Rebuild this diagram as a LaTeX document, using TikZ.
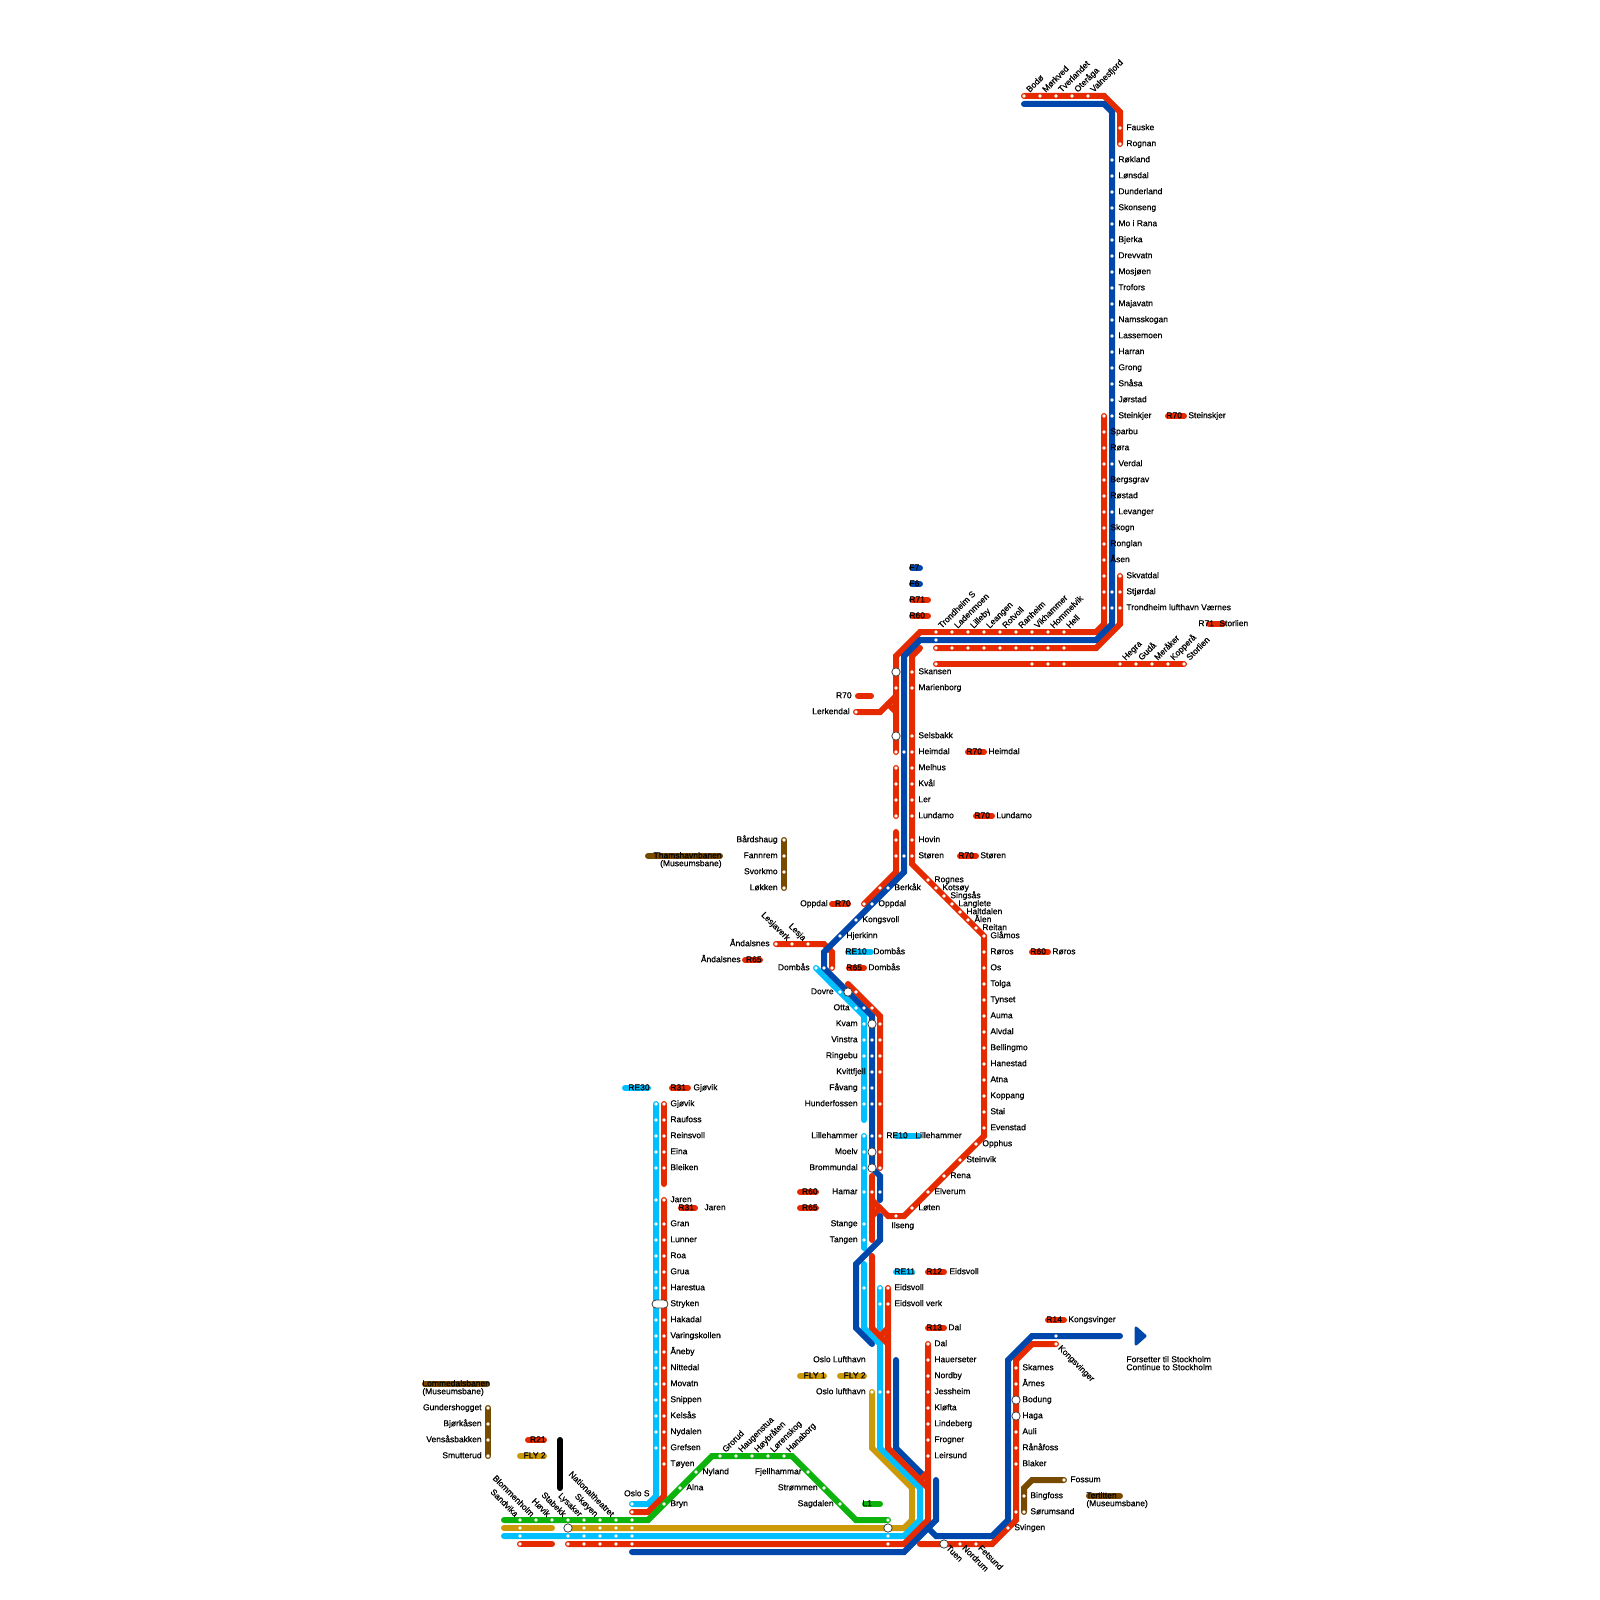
\documentclass[tikz,border=0pt]{standalone}
\usepackage{fontspec}
\setmainfont{Liberation Sans}[FakeBold=0.6]
\definecolor{cr}{HTML}{E52A00}
\definecolor{cb}{HTML}{0047AB}
\definecolor{cc}{HTML}{00BFFF}
\definecolor{cg}{HTML}{0DB30D}
\definecolor{cy}{HTML}{CC9A06}
\definecolor{cn}{HTML}{784A00}
\newcount\nn
\newcommand\tagname{\global\advance\nn by 1 }
\newcommand\tl[3]{\tagname\node[lbl,anchor=base west,name=t\the\nn] at (#1,#2+3.2) {#3};}
\newcommand\tr[3]{\tagname\node[lbl,anchor=base east,name=t\the\nn] at (#1,#2+3.2) {#3};}
\newcommand\rup[3]{\tagname\node[lbl,rotate=45,anchor=base west,name=t\the\nn] at (#1+5.5,#2-3) {#3};}
\newcommand\rdl[3]{\tagname\node[lbl,rotate=-45,anchor=base east,name=t\the\nn] at (#1-5,#2-2.5) {#3};}
\newcommand\rdr[3]{\tagname\node[lbl,rotate=-45,anchor=base west,name=t\the\nn] at (#1+1.5,#2+4.4) {#3};}
\newcommand\pill[4]{\draw[ln,#1] (#2+3,#4) -- (#3-3,#4);}
\newcommand\stns[1]{\foreach \x/\y in {#1} {\node[stn,name=s\x-\y] at (\x,\y) {};}}
\newcommand\hub[2]{\node[hubst,name=h#1-#2] at (#1,#2) {};}
\tikzset{
 ln/.style={line width=3pt,line cap=round,line join=miter},
 stn/.style={circle,fill=white,inner sep=0pt,minimum size=1.85pt},
 hubst/.style={circle,fill=white,draw=black!75,line width=.4pt,inner sep=0pt,minimum size=4.2pt},
 lbl/.style={font=\fontsize{4.25}{5}\selectfont,inner sep=0pt,text=black},
}
\begin{document}
\begin{tikzpicture}[x=.5pt,y=-.5pt]
\useasboundingbox (0,0) rectangle (1600,1600);
\fill[white] (0,0) rectangle (1600,1600);
% brown
\draw[ln,cn] (784,840) -- (784,888);
\draw[ln,cn] (488,1408) -- (488,1456);
\draw[ln,cn] (1024,1512) -- (1024,1488) -- (1032,1480) -- (1064,1480);
% gold
\draw[ln,cy] (504,1528) -- (552,1528);
\draw[ln,cy] (568,1528) -- (904,1528) -- (912,1520) -- (912,1488) -- (872,1448) -- (872,1392);
% black
\draw[ln,black] (560,1440) -- (560,1488);
% cyan
\draw[ln,cc] (816,968) -- (864,1016) -- (864,1120);
\draw[ln,cc] (864,1136) -- (864,1248);
\draw[ln,cc] (864,1264) -- (864,1328) -- (880,1344) -- (880,1448) -- (920,1488) -- (920,1520) -- (904,1536) -- (504,1536);
\draw[ln,cc] (880,1288) -- (880,1328);
\draw[ln,cc] (656,1104) -- (656,1496) -- (648,1504) -- (632,1504);
% blue under red
\draw[ln,cb] (896,1360) -- (896,1448) -- (922,1474);
% red
\draw[ln,cr] (1024,96) -- (1104,96) -- (1120,112) -- (1120,144);
\draw[ln,cr] (1104,416) -- (1104,624) -- (1096,632) -- (920,632) -- (896,656) -- (896,752);
\draw[ln,cr] (1120,576) -- (1120,624) -- (1096,648) -- (936,648);
\draw[ln,cr] (936,664) -- (1184,664);
\draw[ln,cr] (920,648) -- (912,656) -- (912,864) -- (984,936) -- (984,1136) -- (904,1216) -- (888,1216) -- (872,1200);
\draw[ln,cr] (856,712) -- (880,712) -- (896,696);
\draw[ln,cr] (888,704) -- (895,711);
\draw[ln,cr] (896,768) -- (896,816);
\draw[ln,cr] (896,832) -- (896,872) -- (864,904);
\draw[ln,cr] (776,944) -- (824,944) -- (832,952) -- (832,968);
\draw[ln,cr] (848,984) -- (880,1016) -- (880,1168);
\draw[ln,cr] (872,1176) -- (872,1240);
\draw[ln,cr] (880,1208) -- (873,1215);
\draw[ln,cr] (872,1256) -- (872,1328) -- (888,1344);
\draw[ln,cr] (888,1288) -- (888,1448) -- (928,1488);
\draw[ln,cr] (888,1328) -- (880,1336);
\draw[ln,cr] (928,1472) -- (920,1480);
\draw[ln,cr] (928,1344) -- (928,1520) -- (904,1544) -- (568,1544);
\draw[ln,cr] (520,1544) -- (552,1544);
\draw[ln,cr] (664,1104) -- (664,1184);
\draw[ln,cr] (664,1200) -- (664,1496) -- (648,1512) -- (632,1512);
\draw[ln,cr] (920,1544) -- (992,1544) -- (1016,1520) -- (1016,1360) -- (1032,1344) -- (1056,1344);
% blue
\draw[ln,cb] (1024,104) -- (1104,104) -- (1112,112) -- (1112,624) -- (1096,640) -- (920,640) -- (904,656) -- (904,872) -- (824,952) -- (824,968) -- (872,1016) -- (872,1168) -- (880,1176) -- (880,1200);
\draw[ln,cb] (880,1216) -- (880,1240) -- (856,1264) -- (856,1328) -- (872,1344);
\draw[ln,cb] (936,1480) -- (936,1520) -- (904,1552) -- (632,1552);
\draw[ln,cb] (928,1528) -- (936,1536) -- (992,1536) -- (1008,1520) -- (1008,1360) -- (1032,1336) -- (1120,1336);
\draw[cb,fill=cb,line width=1.5pt,line join=round] (1136,1328) -- (1145,1336) -- (1136,1344) -- cycle;
% green
\draw[ln,cg] (504,1520) -- (648,1520) -- (712,1456) -- (792,1456) -- (856,1520) -- (888,1520);
% pills
\pill{cb}{909}{923}{568}
\pill{cb}{909}{923}{584}
\pill{cr}{909}{931}{600}
\pill{cr}{909}{931}{616}
\pill{cr}{1206}{1226}{624}
\pill{cr}{1165}{1187}{416}
\pill{cr}{965}{987}{752}
\pill{cr}{973}{995}{816}
\pill{cr}{957}{979}{856}
\pill{cr}{1029}{1051}{952}
\pill{cr}{855}{874}{696}
\pill{cr}{829}{851}{904}
\pill{cc}{845}{874}{952}
\pill{cr}{846}{867}{968}
\pill{cr}{742}{763}{960}
\pill{cc}{894}{922}{1136}
\pill{cr}{797}{819}{1192}
\pill{cr}{797}{819}{1208}
\pill{cc}{893}{915}{1272}
\pill{cr}{925}{947}{1272}
\pill{cr}{925}{947}{1328}
\pill{cy}{797}{827}{1376}
\pill{cy}{837}{867}{1376}
\pill{cg}{862}{883}{1504}
\pill{cr}{1045}{1067}{1320}
\pill{cn}{1086}{1123}{1496}
\pill{cn}{422}{490}{1384}
\pill{cr}{525}{547}{1440}
\pill{cy}{517}{547}{1456}
\pill{cn}{645}{723}{856}
\pill{cc}{622}{651}{1088}
\pill{cr}{669}{691}{1088}
\pill{cr}{678}{698}{1208}
% stations
\foreach \y in {96} {\foreach \x in {1024,1040,1056,1072,1088} {\node[stn,name=a\x] at (\x,\y) {};}}
\foreach \y in {160,176,...,416,464,512,592,608} {\node[stn,name=b\y] at (1112,\y) {};}
\foreach \y in {416,432,...,608} {\node[stn,name=c\y] at (1104,\y) {};}
\foreach \y in {128,144,576,592,608} {\node[stn,name=d\y] at (1120,\y) {};}
\foreach \x in {936,952,...,1064} {\node[stn,name=e\x] at (\x,632) {}; \node[stn,name=f\x] at (\x,648) {};}
\stns{936/640,936/664,1032/664,1048/664,1064/664,1120/664,1136/664,1152/664,1168/664,1184/664}
\foreach \y in {672,688,736,752,768,784,800,816,840,856} {\node[stn,name=g\y] at (912,\y) {};}
\stns{896/688,896/752,896/768,896/784,896/800,896/816,896/840,896/856,904/752,904/856,856/712,880/888,864/904}
\stns{888/888,872/904,856/920,840/936,776/944,792/944,808/944,816/968,824/968,832/968,840/992,856/992,856/1008,864/1008,872/1008}
\stns{928/880,936/888,944/896,952/904,960/912,968/920,976/928}
\foreach \y in {936,952,...,1128} {\node[stn,name=i\y] at (984,\y) {};}
\stns{976/1144,960/1160,944/1176,928/1192,912/1208,896/1216}
\foreach \y in {1024,1040,1056,1088,1104,1136,1152,1168,1192,1224,1240,1288} {\node[stn,name=j\y] at (864,\y) {};}
\foreach \y in {1040,1056,1072,1088,1104,1136} {\node[stn,name=k\y] at (872,\y) {};}
\stns{872/1192,880/1192}
\foreach \y in {1024,1040,1056,1072,1104,1136,1152,1168} {\node[stn,name=m\y] at (880,\y) {};}
\stns{880/1288,880/1304,888/1288,888/1304,872/1392,880/1392,888/1392}
\foreach \y in {1344,1360,...,1456} {\node[stn,name=n\y] at (928,\y) {};}
\foreach \y in {1368,1384,1432,1448,1464,1512} {\node[stn,name=o\y] at (1016,\y) {};}
\stns{1008/1528,1056/1336,1056/1344,960/1544,976/1544,1024/1496,1024/1512,1064/1480}
\foreach \y in {1104,1120,1136,1152,1168,1200,1224,1240,1256,1272,1288,1320,1336,...,1448} {\node[stn,name=p\y] at (656,\y) {};}
\foreach \y in {1104,1120,1136,1152,1168,1200,1224,1240,1256,1272,1288,1320,1336,...,1464} {\node[stn,name=q\y] at (664,\y) {};}
\stns{632/1504,632/1512,664/1504,680/1488,696/1472,720/1456,736/1456,752/1456,768/1456,784/1456,808/1472,824/1488,840/1504,888/1520}
\foreach \x in {520,536,552,568,584,600,616,632} {\node[stn,name=r\x] at (\x,1520) {};}
\foreach \x in {520,584,600,616,632} {\node[stn,name=u\x] at (\x,1528) {};}
\foreach \x in {520,568,584,600,616,632,888} {\node[stn,name=v\x] at (\x,1536) {}; \node[stn,name=w\x] at (\x,1544) {};}
\foreach \y in {840,856,872,888} {\node[stn,name=x\y] at (784,\y) {};}
\foreach \y in {1408,1424,1440,1456} {\node[stn,name=z\y] at (488,\y) {};}
% hubs
\hub{896}{672}\hub{896}{736}\hub{848}{992}\hub{872}{1024}\hub{872}{1152}\hub{872}{1168}
\hub{1016}{1400}\hub{1016}{1416}\hub{944}{1544}\hub{888}{1528}\hub{568}{1528}
\node[draw=black!75,fill=white,line width=.4pt,rounded corners=2pt,minimum width=8pt,minimum height=4pt,inner sep=0pt,name=hstryken] at (660,1304) {};
% labels north
\rup{1024}{96}{Bodø}\rup{1040}{96}{Mørkved}\rup{1056}{96}{Tverlandet}\rup{1072}{96}{Oteråga}\rup{1088}{96}{Valnesfjord}
\tl{1126}{127}{Fauske}\tl{1126}{143}{Rognan}
\foreach \y/\t in {159/Røkland,175/Lønsdal,191/Dunderland,207/Skonseng,223/Mo i Rana,239/Bjerka,255/Drevvatn,271/Mosjøen,287/Trofors,303/Majavatn,319/Namsskogan,335/Lassemoen,351/Harran,367/Grong,383/Snåsa,399/Jørstad,415/Steinkjer,463/Verdal,511/Levanger} {\tl{1118}{\y}{\t}}
\foreach \y/\t in {431/Sparbu,447/Røra,479/Bergsgrav,495/Røstad,527/Skogn,543/Ronglan,559/Åsen} {\tl{1110}{\y}{\t}}
\tl{1126}{575}{Skvatdal}\tl{1126}{591}{Stjørdal}\tl{1126}{607}{Trondheim lufthavn Værnes}
\tl{1166}{415}{R70}\tl{1188}{415}{Steinskjer}
\tl{909}{567}{F7}\tl{909}{583}{F6}\tl{909}{599}{R71}\tl{909}{615}{R60}
\tl{1198}{623}{R71}\tl{1219}{623}{Storlien}
\foreach \x/\t in {936/Trondheim S,952/Ladenmoen,968/Lilleby,984/Leangen,1000/Rotvoll,1016/Ranheim,1032/Vikhammer,1048/Hommelvik,1064/Hell} {\rup{\x}{632}{\t}}
\foreach \x/\t in {1120/Hegra,1136/Gudå,1152/Meråker,1168/Kopperå,1184/Storlien} {\rup{\x}{664}{\t}}
% labels mid
\foreach \y/\t in {671/Skansen,687/Marienborg,735/Selsbakk,751/Heimdal,767/Melhus,783/Kvål,799/Ler,815/Lundamo,839/Hovin,855/Støren} {\tl{918}{\y}{\t}}
\tr{852}{695}{R70}\tr{850}{711}{Lerkendal}
\tl{966}{751}{R70}\tl{988}{751}{Heimdal}
\tl{974}{815}{R70}\tl{996}{815}{Lundamo}
\tl{958}{855}{R70}\tl{980}{855}{Støren}
\tl{934}{879}{Rognes}\tl{942}{887}{Kotsøy}\tl{950}{895}{Singsås}\tl{958}{903}{Langlete}\tl{966}{911}{Haltdalen}\tl{974}{919}{Ålen}\tl{982}{927}{Reitan}
\foreach \y/\t in {935/Glåmos,951/Røros,967/Os,983/Tolga,999/Tynset,1015/Auma,1031/Alvdal,1047/Bellingmo,1063/Hanestad,1079/Atna,1095/Koppang,1111/Stai,1127/Evenstad} {\tl{990}{\y}{\t}}
\tl{1030}{951}{R60}\tl{1052}{951}{Røros}
\tl{982}{1143}{Opphus}\tl{966}{1159}{Steinvik}\tl{950}{1175}{Rena}\tl{934}{1191}{Elverum}\tl{918}{1207}{Løten}\tl{891}{1225}{Ilseng}
\tl{894}{887}{Berkåk}\tl{878}{903}{Oppdal}\tl{862}{919}{Kongsvoll}\tl{846}{935}{Hjerkinn}
\tr{828}{903}{Oppdal}\tr{851}{903}{R70}
\tl{845}{951}{RE10}\tl{873}{951}{Dombås}\tl{846}{967}{R65}\tl{868}{967}{Dombås}
\tr{770}{943}{Åndalsnes}\tr{741}{959}{Åndalsnes}\tr{762}{959}{R65}
\rdl{792}{944}{Lesjaverk}\rdl{808}{944}{Lesja}
\tr{810}{967}{Dombås}\tr{834}{991}{Dovre}\tr{850}{1007}{Otta}
\foreach \y/\t in {1023/Kvam,1039/Vinstra,1055/Ringebu,1087/Fåvang,1103/Hunderfossen,1135/Lillehammer,1151/Moelv,1167/Brommundal,1191/Hamar,1223/Stange,1239/Tangen} {\tr{858}{\y}{\t}}
\tr{866}{1071}{Kvittfjell}
\tl{886}{1135}{RE10}\tl{915}{1135}{Lillehammer}
\tr{818}{1191}{R60}\tr{818}{1207}{R65}
\tl{894}{1271}{RE11}\tl{926}{1271}{R12}\tl{949}{1271}{Eidsvoll}
\tl{894}{1287}{Eidsvoll}\tl{894}{1303}{Eidsvoll verk}
\tl{926}{1327}{R13}\tl{948}{1327}{Dal}
\foreach \y/\t in {1343/Dal,1359/Hauerseter,1375/Nordby,1391/Jessheim,1407/Kløfta,1423/Lindeberg,1439/Frogner,1455/Leirsund} {\tl{934}{\y}{\t}}
\tr{866}{1359}{Oslo Lufthavn}\tr{826}{1375}{FLY 1}\tr{866}{1375}{FLY 2}\tr{866}{1391}{Oslo lufthavn}
\tl{862}{1503}{L1}
% labels east
\tl{1046}{1319}{R14}\tl{1068}{1319}{Kongsvinger}
\rdr{1056}{1344}{Kongsvinger}
\tl{1126}{1359}{Forsetter til Stockholm}\tl{1126}{1367}{Continue to Stockholm}
\foreach \y/\t in {1367/Skarnes,1383/Årnes,1399/Bodung,1415/Haga,1431/Auli,1447/Rånåfoss,1463/Blaker} {\tl{1022}{\y}{\t}}
\tl{1014}{1527}{Svingen}
\tl{1070}{1479}{Fossum}\tl{1030}{1495}{Bingfoss}\tl{1030}{1511}{Sørumsand}
\tl{1086}{1495}{Tertitten}\tl{1086}{1503}{(Museumsbane)}
\rdr{944}{1544}{Tuen}\rdr{960}{1544}{Nordrum}\rdr{976}{1544}{Fetsund}
% labels west
\tl{422}{1383}{Lommedalsbanen}\tl{422}{1391}{(Museumsbane)}
\foreach \y/\t in {1407/Gundershogget,1423/Bjørkåsen,1439/Vensåsbakken,1455/Smutterud} {\tr{482}{\y}{\t}}
\tr{546}{1439}{R21}\tr{546}{1455}{FLY 2}
\tr{722}{855}{Thamshavnbanen}\tr{722}{863}{(Museumsbane)}
\foreach \y/\t in {839/Bårdshaug,855/Fannrem,871/Svorkmo,887/Løkken} {\tr{778}{\y}{\t}}
\tr{650}{1087}{RE30}\tl{670}{1087}{R31}\tl{693}{1087}{Gjøvik}
\tl{678}{1207}{R31}\tl{704}{1207}{Jaren}
\foreach \y/\t in {1103/Gjøvik,1119/Raufoss,1135/Reinsvoll,1151/Eina,1167/Bleiken,1199/Jaren,1223/Gran,1239/Lunner,1255/Roa,1271/Grua,1287/Harestua,1303/Stryken,1319/Hakadal,1335/Varingskollen,1351/Åneby,1367/Nittedal,1383/Movatn,1399/Snippen,1415/Kelsås,1431/Nydalen,1447/Grefsen,1463/Tøyen} {\tl{670}{\y}{\t}}
\tr{650}{1493}{Oslo S}\tl{670}{1503}{Bryn}\tl{686}{1487}{Alna}\tl{702}{1471}{Nyland}
\foreach \x/\t in {720/Grorud,736/Haugenstua,752/Høybråten,768/Lørenskog,784/Hanaborg} {\rup{\x}{1456}{\t}}
\tr{802}{1471}{Fjellhammar}\tr{818}{1487}{Strømmen}\tr{834}{1503}{Sagdalen}
\foreach \x/\t in {520/Sandvika,536/Blommenholm,552/Høvik,568/Stabekk,584/Lysaker,600/Skøyen,616/Nationaltheatret} {\rdl{\x}{1520}{\t}}
\end{tikzpicture}
\end{document}
